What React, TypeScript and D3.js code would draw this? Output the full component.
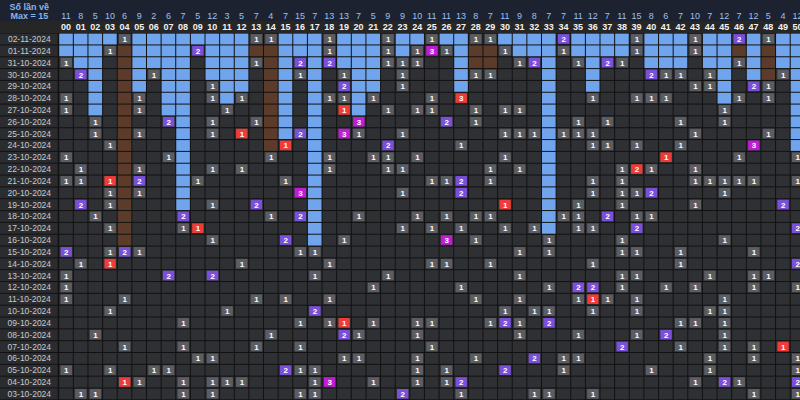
import React from 'react';
import * as d3 from 'd3';

// draw dates, newest first
const dates = [
  '02-11-2024', '01-11-2024', '31-10-2024', '30-10-2024', '29-10-2024', '28-10-2024',
  '27-10-2024', '26-10-2024', '25-10-2024', '24-10-2024', '23-10-2024', '22-10-2024',
  '21-10-2024', '20-10-2024', '19-10-2024', '18-10-2024', '17-10-2024', '16-10-2024',
  '15-10-2024', '14-10-2024', '13-10-2024', '12-10-2024', '11-10-2024', '10-10-2024',
  '09-10-2024', '08-10-2024', '07-10-2024', '06-10-2024', '05-10-2024', '04-10-2024',
  '03-10-2024',
];

// number labels 00..50
const numbers = d3.range(51).map(n => String(n).padStart(2, '0'));

// "Số lần về" per number
const totals = [
  11, 8, 5, 10, 6, 9, 2, 6, 7, 5, 12, 3, 5, 7, 4, 7, 15, 7, 13, 13, 7, 5, 9, 9, 10, 11,
  11, 13, 8, 7, 11, 9, 8, 7, 7, 11, 12, 7, 11, 15, 8, 6, 7, 10, 7, 12, 7, 12, 5, 4, 12,
];

// hits per draw: "NN" = once, "NN*k" = k times
const hits = [
  '04 13 14 18 22 25 28 29 34*2 39 43 46*2 48',
  '03 09*2 18 22 24 25*3 26 30 34 39 43',
  '00 13 16*2 18*2 22 23 24 31 32*2 35 37*2 38 46',
  '01*2 06 16 19 23 28 29 40*2 41 42 44 49',
  '10 19*2 23 43 44 47*2 48',
  '00 05 10 12 18 19 21 25 27*3 36 39 40 41 46 48',
  '00 05 11 19 22 24 25 28 30 31 45',
  '02 07*2 10 13 20*3 26*2 28 35 37 42 45',
  '02 05 10 12 16*2 19*3 20 23 30 31 32 34 35 36 43 48',
  '03 15 22*2 27 36 37 39 42 47*3',
  '00 07 14 18 21 22 24 30 41 46 50',
  '01 05 10 12 18 22 23 29 31 38 39*2 40 43',
  '00 01 03 05*2 09 15 25 26 27*2 29 36 38 43 44 45 46 47 50',
  '03 05 16*3 23 27*2 36 38 39 40*2 45',
  '01*2 03 10 13*2 30 35 38 43 49*2',
  '02 08*2 14 16*2 20 24 26 28 29 34 35 37*2 39 40',
  '03 08 09 23 25 27 30 32 35 36 39*2 50*2',
  '10 15*2 19 26*3 28 33 38 45',
  '00*2 03 04*2 05 16 17 31 33 38 39 42 47',
  '01 03 12 18 25 26 29 36 42 50*2',
  '00 07*2 10*2 17 22 31 38 39 44 47 48',
  '00 21 27 33 35*2 36*2 38 41 43 47 50',
  '00 04 13 15 18 28 31 35 36 37 39 45',
  '03 11 17*2 30 32 33 36 39 44 45',
  '08 16 18 19 21 24 25 29 30*2 31 33*2 42 43 45',
  '02 14 19*2 20 24 31 35 39 41*2 45',
  '04 08 13 16 25 38*2 42 45 47 49',
  '09 10 19 20 24 28 32*2 34 35 44 47 50',
  '00 03 06 07 15*2 16 17 24 26 30*2 34 40 44 50',
  '04 05 08 10 11 12 17 18*3 21 24 26 27*2 43 45*2 46 50*2',
  '01 02 08 10 16 17 23*2 27 32 33 36 47 50',
];

// special prize number of each draw (red), null when outside 00..50
const specials = [
  null, null, null, null, null, 27, 19, null, 12, 15, 41, 39, 3, null, 30, null,
  9, null, null, 3, null, null, 36, null, 19, null, 49, null, null, 4, null,
];

const labelW = 58.7;
const colW = 14.63;
const rowH = 11.83;
const gridTop = 33.1;
const font = "'Liberation Sans', Arial, sans-serif";

const hitColor = (k: number, special: boolean) =>
  special ? '#ee3c38' : k >= 3 ? '#c01cd5' : k === 2 ? '#7a50d8' : '#5c5d62';

export default function App() {
  const x = d3.scaleBand<number>()
    .domain(d3.range(numbers.length))
    .range([labelW, labelW + numbers.length * colW]);
  const y = d3.scaleBand<number>()
    .domain(d3.range(dates.length))
    .range([gridTop, gridTop + dates.length * rowH]);

  const grid = hits.map(r => {
    const a = new Array(numbers.length).fill(0);
    r.split(' ').forEach(t => {
      const [c, k] = t.split('*');
      a[+c] = k ? +k : 1;
    });
    return a;
  });

  // blue: not drawn yet since top; brown: gap before latest hit
  const status: string[][] = grid.map(r => r.map(() => 'empty'));
  numbers.forEach((_, c) => {
    if (grid[0][c] > 0) {
      let next = grid.findIndex((r, i) => i > 0 && r[c] > 0);
      if (next < 0) next = grid.length;
      for (let i = 1; i < next; i++) status[i][c] = 'brown';
    } else {
      let first = grid.findIndex(r => r[c] > 0);
      if (first < 0) first = grid.length;
      for (let i = 0; i < first; i++) status[i][c] = 'blue';
    }
  });

  const bw = x.bandwidth();
  const bh = y.bandwidth();
  const fill = { empty: '#2f3034', blue: '#70a4ec', brown: '#5c3b2a' } as Record<string, string>;

  return (
    <svg width={800} height={400} style={{ position: 'fixed', left: 0, top: 0 }} fontFamily={font}>
      <rect width={800} height={400} fill="#121212" />

      {/* header */}
      <rect x={0} y={0} width={800} height={21} fill="#1c2230" />
      <rect x={0} y={21} width={800} height={gridTop - 21} fill="#262626" />
      <text x={labelW / 2} y={9.5} textAnchor="middle" fontSize={9} fontWeight="bold" fill="#8ab3e8">Số lần về</text>
      <text x={labelW / 2} y={18.5} textAnchor="middle" fontSize={9} fontWeight="bold" fill="#8ab3e8">Max = 15</text>
      {totals.map((t, c) => (
        <text key={'t' + c} x={x(c)! + bw / 2} y={18.5} textAnchor="middle" fontSize={9} fill="#9cc0f0">{t}</text>
      ))}
      {numbers.map((n, c) => (
        <text key={'n' + c} x={x(c)! + bw / 2} y={30.3} textAnchor="middle" fontSize={9} fontWeight="bold" fill="#f2f2f2">{n}</text>
      ))}

      {/* date labels */}
      {dates.map((d, r) => (
        <g key={d}>
          <rect x={0} y={y(r)! + 0.5} width={labelW - 1} height={bh - 1} fill="#2b2c30" />
          <text x={labelW / 2} y={y(r)! + bh / 2 + 3} textAnchor="middle" fontSize={8.5} fill="#c9c9c9">{d}</text>
        </g>
      ))}

      {/* cells */}
      {grid.map((row, r) => row.map((k, c) => (
        <g key={r + '-' + c}>
          <rect x={x(c)! + 0.5} y={y(r)! + 0.5} width={bw - 1} height={bh - 1} fill={fill[status[r][c]]} />
          {k > 0 && (
            <>
              <rect x={x(c)! + 1.8} y={y(r)! + 1} width={bw - 3.2} height={bh - 2.2} fill={hitColor(k, specials[r] === c)} />
              <text x={x(c)! + bw / 2 + 0.3} y={y(r)! + bh / 2 + 3} textAnchor="middle" fontSize={8} fontWeight="bold" fill="#ffffff">{k}</text>
            </>
          )}
        </g>
      )))}
    </svg>
  );
}
